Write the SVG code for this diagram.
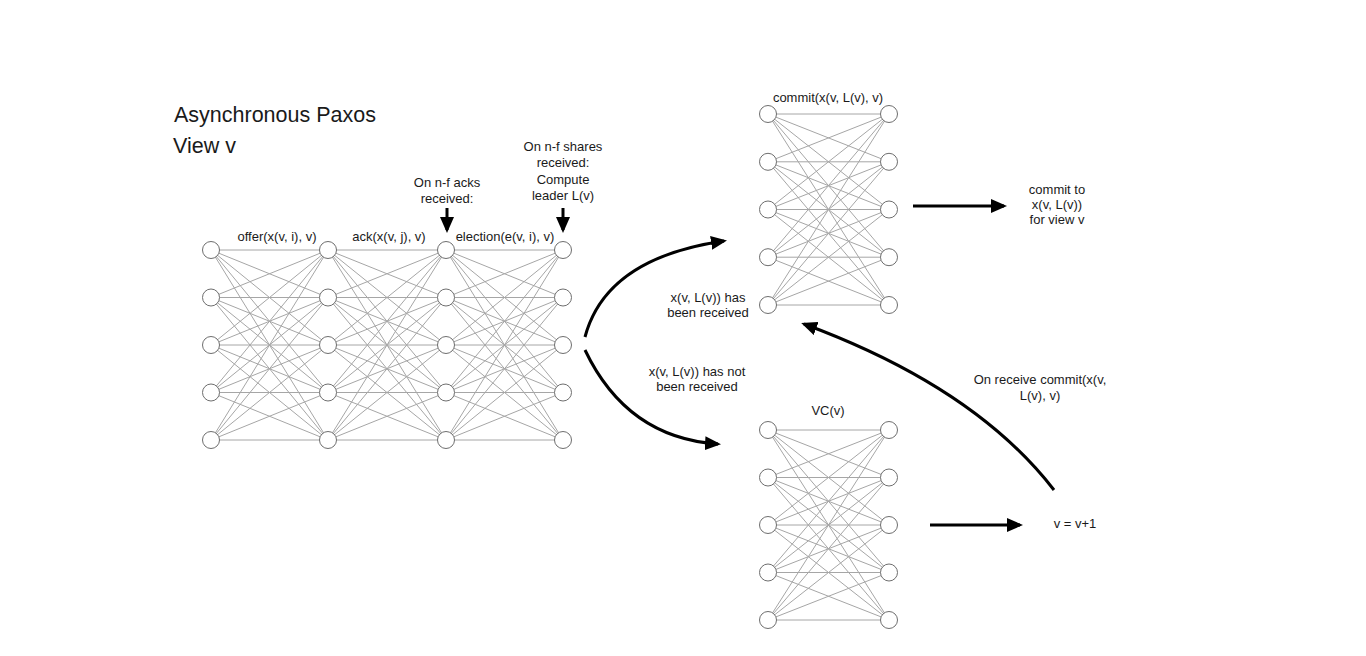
<svg xmlns="http://www.w3.org/2000/svg" width="1366" height="656" viewBox="0 0 1366 656">
<style>
.bg{fill:#ffffff}
.edge{fill:none;stroke:#a6a6a6;stroke-width:1}
.node{fill:#ffffff;stroke:#6e6e6e;stroke-width:1}
.arr{fill:none;stroke:#000000;stroke-width:3}
text{font-family:"Liberation Sans",Arial,sans-serif;fill:#1a1a1a}
.lbl{font-size:13px;text-anchor:middle}
.title{font-size:21.5px}
</style>
<defs>
<marker id="ah" markerUnits="userSpaceOnUse" markerWidth="16" markerHeight="14" refX="13" refY="7" orient="auto">
<path d="M0,0 L16,7 L0,14 z" fill="#000000"/>
</marker>
<circle id="n" r="8.5" class="node"/>
</defs>
<rect class="bg" x="0" y="0" width="1366" height="656"/>

<g id="connectors">
<!-- left network -->
<path class="edge" d="M211,250L328,250M211,250L328,297.5M211,250L328,345M211,250L328,392.5M211,250L328,440
M211,297.5L328,250M211,297.5L328,297.5M211,297.5L328,345M211,297.5L328,392.5M211,297.5L328,440
M211,345L328,250M211,345L328,297.5M211,345L328,345M211,345L328,392.5M211,345L328,440
M211,392.5L328,250M211,392.5L328,297.5M211,392.5L328,345M211,392.5L328,392.5M211,392.5L328,440
M211,440L328,250M211,440L328,297.5M211,440L328,345M211,440L328,392.5M211,440L328,440"/>
<path class="edge" d="M328,250L446,250M328,250L446,297.5M328,250L446,345M328,250L446,392.5M328,250L446,440
M328,297.5L446,250M328,297.5L446,297.5M328,297.5L446,345M328,297.5L446,392.5M328,297.5L446,440
M328,345L446,250M328,345L446,297.5M328,345L446,345M328,345L446,392.5M328,345L446,440
M328,392.5L446,250M328,392.5L446,297.5M328,392.5L446,345M328,392.5L446,392.5M328,392.5L446,440
M328,440L446,250M328,440L446,297.5M328,440L446,345M328,440L446,392.5M328,440L446,440"/>
<path class="edge" d="M446,250L563,250M446,250L563,297.5M446,250L563,345M446,250L563,392.5M446,250L563,440
M446,297.5L563,250M446,297.5L563,297.5M446,297.5L563,345M446,297.5L563,392.5M446,297.5L563,440
M446,345L563,250M446,345L563,297.5M446,345L563,345M446,345L563,392.5M446,345L563,440
M446,392.5L563,250M446,392.5L563,297.5M446,392.5L563,345M446,392.5L563,392.5M446,392.5L563,440
M446,440L563,250M446,440L563,297.5M446,440L563,345M446,440L563,392.5M446,440L563,440"/>
<!-- commit network -->
<path class="edge" d="M768,114L889,114M768,114L889,161.8M768,114L889,209.5M768,114L889,257.2M768,114L889,305
M768,161.8L889,114M768,161.8L889,161.8M768,161.8L889,209.5M768,161.8L889,257.2M768,161.8L889,305
M768,209.5L889,114M768,209.5L889,161.8M768,209.5L889,209.5M768,209.5L889,257.2M768,209.5L889,305
M768,257.2L889,114M768,257.2L889,161.8M768,257.2L889,209.5M768,257.2L889,257.2M768,257.2L889,305
M768,305L889,114M768,305L889,161.8M768,305L889,209.5M768,305L889,257.2M768,305L889,305"/>
<!-- VC network -->
<path class="edge" d="M768,430L889,430M768,430L889,477.5M768,430L889,525M768,430L889,572.5M768,430L889,620
M768,477.5L889,430M768,477.5L889,477.5M768,477.5L889,525M768,477.5L889,572.5M768,477.5L889,620
M768,525L889,430M768,525L889,477.5M768,525L889,525M768,525L889,572.5M768,525L889,620
M768,572.5L889,430M768,572.5L889,477.5M768,572.5L889,525M768,572.5L889,572.5M768,572.5L889,620
M768,620L889,430M768,620L889,477.5M768,620L889,525M768,620L889,572.5M768,620L889,620"/>
<!-- arrows -->
<path class="arr" marker-end="url(#ah)" d="M447,208 L447,230"/>
<path class="arr" marker-end="url(#ah)" d="M563,208 L563,230"/>
<path class="arr" marker-end="url(#ah)" d="M585,337 Q606,258 724,241"/>
<path class="arr" marker-end="url(#ah)" d="M585,350 Q627,438 718,444"/>
<path class="arr" marker-end="url(#ah)" d="M913,206 L1004,206"/>
<path class="arr" marker-end="url(#ah)" d="M930,525 L1020,525"/>
<path class="arr" marker-end="url(#ah)" d="M1054,490 C1000,420 915,365 804,324"/>
</g>

<g id="left-col1">
<use href="#n" x="211" y="250"/><use href="#n" x="211" y="297.5"/><use href="#n" x="211" y="345"/><use href="#n" x="211" y="392.5"/><use href="#n" x="211" y="440"/>
</g>
<g id="left-col2">
<use href="#n" x="328" y="250"/><use href="#n" x="328" y="297.5"/><use href="#n" x="328" y="345"/><use href="#n" x="328" y="392.5"/><use href="#n" x="328" y="440"/>
</g>
<g id="left-col3">
<use href="#n" x="446" y="250"/><use href="#n" x="446" y="297.5"/><use href="#n" x="446" y="345"/><use href="#n" x="446" y="392.5"/><use href="#n" x="446" y="440"/>
</g>
<g id="left-col4">
<use href="#n" x="563" y="250"/><use href="#n" x="563" y="297.5"/><use href="#n" x="563" y="345"/><use href="#n" x="563" y="392.5"/><use href="#n" x="563" y="440"/>
</g>
<g id="commit-col1">
<use href="#n" x="768" y="114"/><use href="#n" x="768" y="161.8"/><use href="#n" x="768" y="209.5"/><use href="#n" x="768" y="257.2"/><use href="#n" x="768" y="305"/>
</g>
<g id="commit-col2">
<use href="#n" x="889" y="114"/><use href="#n" x="889" y="161.8"/><use href="#n" x="889" y="209.5"/><use href="#n" x="889" y="257.2"/><use href="#n" x="889" y="305"/>
</g>
<g id="vc-col1">
<use href="#n" x="768" y="430"/><use href="#n" x="768" y="477.5"/><use href="#n" x="768" y="525"/><use href="#n" x="768" y="572.5"/><use href="#n" x="768" y="620"/>
</g>
<g id="vc-col2">
<use href="#n" x="889" y="430"/><use href="#n" x="889" y="477.5"/><use href="#n" x="889" y="525"/><use href="#n" x="889" y="572.5"/><use href="#n" x="889" y="620"/>
</g>

<g id="labels">
<text class="title" x="174" y="122">Asynchronous Paxos</text>
<text class="title" x="173" y="153">View v</text>
<text class="lbl" x="447" y="187">On n-f acks</text>
<text class="lbl" x="447" y="203">received:</text>
<text class="lbl" x="563" y="151">On n-f shares</text>
<text class="lbl" x="563" y="167">received:</text>
<text class="lbl" x="563" y="184">Compute</text>
<text class="lbl" x="563" y="200">leader L(v)</text>
<text class="lbl" x="277" y="241">offer(x(v, i), v)</text>
<text class="lbl" x="389" y="241">ack(x(v, j), v)</text>
<text class="lbl" x="505" y="241">election(e(v, i), v)</text>
<text class="lbl" x="828" y="102">commit(x(v, L(v), v)</text>
<text class="lbl" x="828" y="415">VC(v)</text>
<text class="lbl" x="708" y="302">x(v, L(v)) has</text>
<text class="lbl" x="708" y="317">been received</text>
<text class="lbl" x="697" y="376">x(v, L(v)) has not</text>
<text class="lbl" x="697" y="391">been received</text>
<text class="lbl" x="1057" y="194">commit to</text>
<text class="lbl" x="1057" y="209">x(v, L(v))</text>
<text class="lbl" x="1057" y="224">for view v</text>
<text class="lbl" x="1075" y="528">v = v+1</text>
<text class="lbl" x="1040" y="384">On receive commit(x(v,</text>
<text class="lbl" x="1040" y="400">L(v), v)</text>
</g>
</svg>
